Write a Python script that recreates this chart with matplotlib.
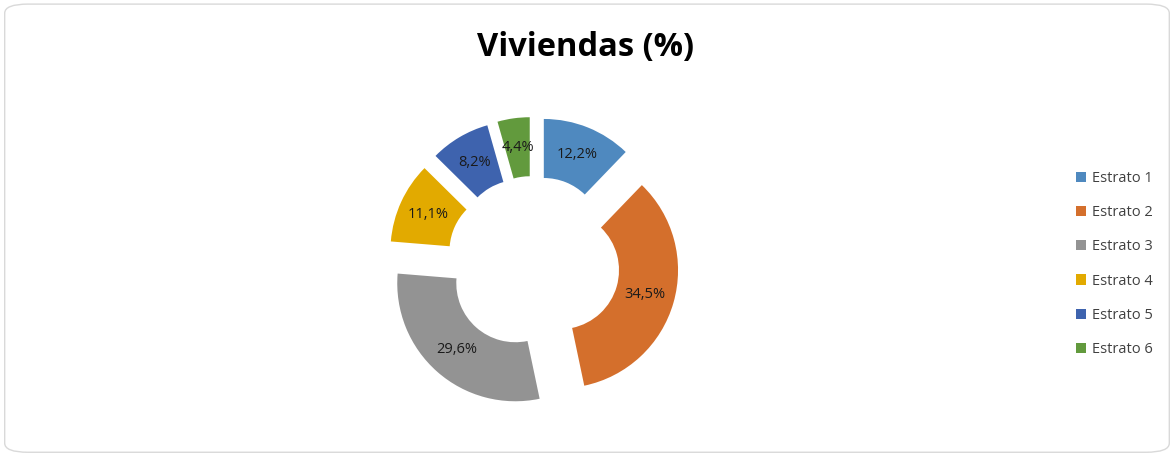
import matplotlib.pyplot as plt
import numpy as np
from matplotlib.patches import FancyBboxPatch, Patch

# -------------------- Data -------------------- #
categories = ["Estrato 1", "Estrato 2", "Estrato 3", "Estrato 4", "Estrato 5", "Estrato 6"]
values = [12.2, 34.5, 29.6, 11.1, 8.2, 4.4]
labels = ["12,2%", "34,5%", "29,6%", "11,1%", "8,2%", "4,4%"]
colors = ["#4F89BF", "#D46F2C", "#939393", "#E2AA00", "#3E63AE", "#629A3D"]

plt.rcParams["font.family"] = ["Open Sans", "DejaVu Sans"]

fig = plt.figure(figsize=(11.74, 4.55), dpi=100)

# rounded chart border
border = FancyBboxPatch((0.004, 0.006), 0.992, 0.985,
                        boxstyle="round,pad=0,rounding_size=0.02",
                        transform=fig.transFigure, facecolor="none",
                        edgecolor="#D9D9D9", linewidth=1.0, zorder=-1)
fig.patches.append(border)

ax = fig.add_axes([0.3237, 0.0856, 0.2615, 0.6747])
wedges, _ = ax.pie(values, colors=colors, startangle=90, counterclock=False,
                   explode=[0.233] * len(values),
                   wedgeprops=dict(width=0.5, linewidth=0))

# labels in the middle of each exploded ring segment
for w, lab in zip(wedges, labels):
    ang = np.deg2rad((w.theta1 + w.theta2) / 2)
    cx, cy = w.center
    ax.text(cx + 0.75 * np.cos(ang), cy + 0.75 * np.sin(ang), lab,
            ha="center", va="center", fontsize=10.5, color="#1A1A1A")

ax.set_xlim(-1.3, 1.3)
ax.set_ylim(-1.3, 1.3)
ax.set_aspect("equal")
ax.axis("off")

fig.text(0.499, 0.895, "Viviendas (%)", ha="center", va="center",
         fontsize=23.5, fontweight="bold", color="black")

handles = [Patch(facecolor=c, edgecolor="none") for c in colors]
fig.legend(handles, categories, loc="center left", bbox_to_anchor=(0.905, 0.42),
           frameon=False, fontsize=10.5, handlelength=0.7, handleheight=0.7,
           handletextpad=0.45, labelspacing=1.32, labelcolor="#404040")

fig.savefig("out.png", dpi=100)
